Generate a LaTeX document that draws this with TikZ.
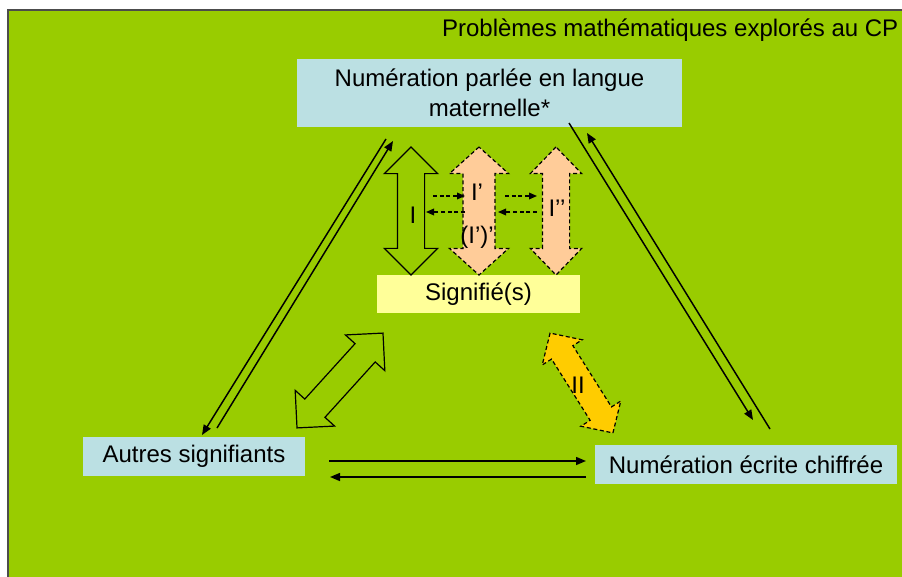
\documentclass[tikz,border=0pt]{standalone}
\usepackage{fontspec}
\setmainfont{Liberation Sans}
\usetikzlibrary{shapes.arrows,arrows.meta}
\definecolor{bggreen}{HTML}{99CC00}
\definecolor{paleblue}{HTML}{BBE0E3}
\definecolor{paleyellow}{HTML}{FFFF99}
\definecolor{peach}{HTML}{FFCC99}
\definecolor{gold}{HTML}{FFCC00}
\begin{document}
\begin{tikzpicture}[x=0.75pt,y=-0.75pt,>={Triangle[length=7.5pt,width=6pt]},
        txt/.style={font=\fontsize{18pt}{22.5pt}\selectfont},
        box/.style={txt, fill=paleblue, align=center},
        dblarrow/.style={double arrow, draw=black, line width=0.9pt, minimum height=96pt, double arrow head indent=0pt},
        dashedge/.style={dash pattern=on 3pt off 2pt},
        link/.style={->, line width=1.1pt},
        hop/.style={-{Triangle[length=6pt,width=5pt]}, dashedge, line width=0.9pt}]
    \useasboundingbox (0,0) rectangle (902,577);
    \fill[white] (0,0) rectangle (902,577);
    \draw[fill=bggreen, draw=gray!60!black, line width=0.8pt] (8,10) rectangle (906,581);
    \node[txt, anchor=east] (title) at (903,30) {Problèmes mathématiques explorés au CP};
    % the four boxes
    \node[box, minimum width=288.75pt, minimum height=51pt] (parlee) at (489.5,93) {Numération parlée en langue\\maternelle*};
    \node[txt, fill=paleyellow, minimum width=152.25pt, minimum height=28.5pt] (signifie) at (478.5,294) {Signifié(s)};
    \node[box, minimum width=166.5pt, minimum height=29.25pt] (autres) at (194,456.5) {Autres signifiants};
    \node[box, minimum width=226.5pt, minimum height=29.25pt] (ecrite) at (746,464.5) {Numération écrite chiffrée};
    % big double arrows
    \node[dblarrow, fill=bggreen, rotate=90, minimum width=39pt, inner sep=9.75pt, double arrow head extend=9.75pt] (arrI) at (411,211) {};
    \node[dblarrow, dashedge, fill=peach, rotate=90, minimum width=43.5pt, inner sep=11.6pt, double arrow head extend=10.1pt, double arrow tip angle=96] (arrIp) at (479,211) {};
    \node[dblarrow, dashedge, fill=peach, rotate=90, minimum width=37.5pt, inner sep=9.75pt, double arrow head extend=9pt, double arrow tip angle=88] (arrIpp) at (556,211) {};
    \node[dblarrow, fill=bggreen, rotate=47.8, minimum width=39pt, inner sep=9.75pt, double arrow head extend=9.75pt] (arrdiag) at (340,380.5) {};
    \node[dblarrow, dashedge, fill=gold, rotate=-57.8, minimum height=88.5pt, minimum width=34.5pt, inner sep=9pt, double arrow head extend=8.25pt, double arrow tip angle=92] (arrII) at (581.5,383) {};
    \node[txt] (lblI) at (413,215) {I};
    \node[txt] (lblIp) at (477,192) {I’};
    \node[txt] (lblIpq) at (477,237) {(I’)’};
    \node[txt] (lblIpp) at (557,208) {I’’};
    \node[txt] (lblII) at (578,385) {II};
    % end points of the links
    \coordinate (pa) at (386,139);
    \coordinate (aa) at (202,435);
    \coordinate (ab) at (217,428);
    \coordinate (pb) at (393,141);
    \coordinate (pc) at (569,123);
    \coordinate (ec) at (753,420);
    \coordinate (ed) at (770,429);
    \coordinate (pd) at (587,133);
    \coordinate (ae) at (329,461);
    \coordinate (ee) at (586,461);
    \coordinate (ef) at (586,477);
    \coordinate (af) at (330,477);
    \draw[link] (pa) -- (aa);
    \draw[link] (ab) -- (pb);
    \draw[link] (pc) -- (ec);
    \draw[link] (ed) -- (pd);
    \draw[link] (ae) -- (ee);
    \draw[link] (ef) -- (af);
    % small dashed hops between the arrows
    \coordinate (h1) at (433,196);
    \coordinate (h2) at (465,196);
    \coordinate (h3) at (465,212);
    \coordinate (h4) at (426,212);
    \coordinate (h5) at (505,196);
    \coordinate (h6) at (537,196);
    \coordinate (h7) at (537,212);
    \coordinate (h8) at (498,212);
    \draw[hop] (h1) -- (h2);
    \draw[hop] (h3) -- (h4);
    \draw[hop] (h5) -- (h6);
    \draw[hop] (h7) -- (h8);
\end{tikzpicture}
\end{document}
